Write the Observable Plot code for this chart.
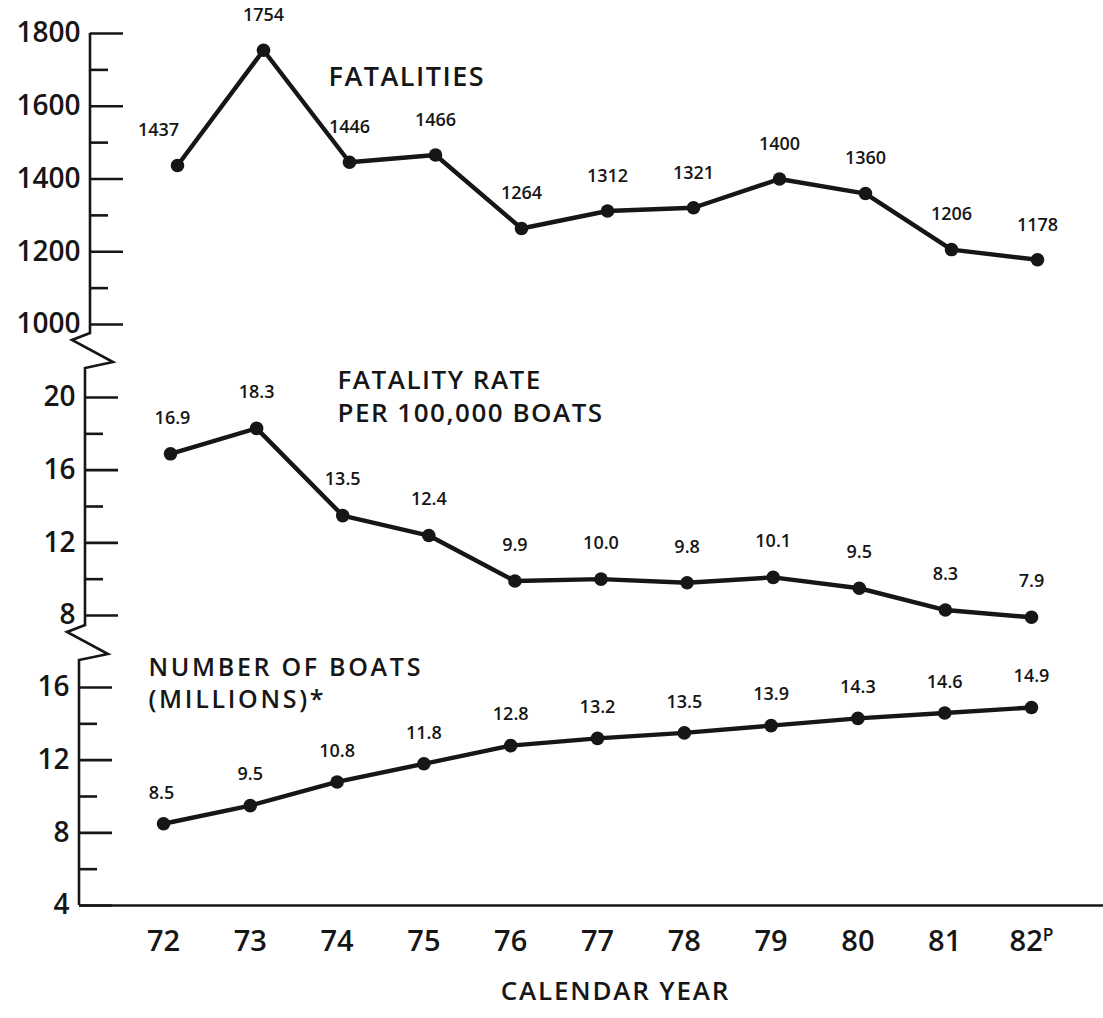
<!DOCTYPE html>
<html><head><meta charset="utf-8">
<script src="https://cdn.jsdelivr.net/npm/d3@7"></script>
<script src="https://cdn.jsdelivr.net/npm/@observablehq/plot@0.6"></script>
<style>
html,body{margin:0;padding:0;background:#fff;}
#chart{position:relative;width:1103px;height:1018px;overflow:hidden;background:#fff;}
#chart svg{position:absolute;left:0;top:0;}
</style></head><body><div id="chart"></div>
<script>
// ---- data ----
const years = [72, 73, 74, 75, 76, 77, 78, 79, 80, 81, 82];
const yearLabels = ["72", "73", "74", "75", "76", "77", "78", "79", "80", "81", "82P"];
const fatalities = [1437, 1754, 1446, 1466, 1264, 1312, 1321, 1400, 1360, 1206, 1178];
const fatalityRate = [16.9, 18.3, 13.5, 12.4, 9.9, 10.0, 9.8, 10.1, 9.5, 8.3, 7.9];
const boatsMillions = [8.5, 9.5, 10.8, 11.8, 12.8, 13.2, 13.5, 13.9, 14.3, 14.6, 14.9];
const fatalityTicks = [1000, 1200, 1400, 1600, 1800];
const fatalityMinorTicks = [1100, 1300, 1500, 1700];
const rateTicks = [8, 12, 16, 20];
const rateMinorTicks = [10, 14, 18];
const boatTicks = [4, 8, 12, 16];
const boatMinorTicks = [6, 10, 14];
const panelTitles = ["FATALITIES", "FATALITY RATE\nPER 100,000 BOATS", "NUMBER OF BOATS\n(MILLIONS)*"];
const xTitle = "CALENDAR YEAR";

// ---- layout / style ----
const W = 1103, H = 1018;
const FONT = "'Open Sans', 'Noto Sans', sans-serif";
const INK = "#161616";
const chart = document.getElementById("chart");

function panel(o) {
  const rows = years.map((yr, i) => ({year: yr, value: o.values[i], label: o.fmt(o.values[i]), i}));
  const marks = [
    Plot.tickY(o.major, {y: d => d, stroke: INK, strokeWidth: 2.6, insetRight: W - o.axisX - 33}),
    Plot.tickY(o.minor, {y: d => d, stroke: INK, strokeWidth: 2.6, insetRight: W - o.axisX - 18}),
    Plot.axisY(o.major, {tickSize: 0, tickPadding: 10, fontSize: 28, fontWeight: 600, fill: INK, label: null,
      tickFormat: d => String(d)}),
    Plot.line(rows, {x: "year", y: "value", stroke: INK, strokeWidth: 4.4, strokeLinejoin: "round"}),
    Plot.dot(rows, {x: "year", y: "value", r: 6.8, fill: INK}),
    Plot.text(rows.filter(d => d.i > 0), {x: "year", y: "value", text: "label", dy: o.labelDy, fontSize: 18, fontWeight: 600, fill: INK}),
    Plot.text(rows.filter(d => d.i === 0), {x: "year", y: "value", text: "label", dy: o.labelDy, dx: o.firstDx, fontSize: 18, fontWeight: 600, fill: INK}),
    Plot.text([o.title], {frameAnchor: "top-left", textAnchor: "start", lineAnchor: "middle", dx: o.titleDx, dy: o.titleDy,
      lineHeight: 1.28, fontSize: o.titleSize, fontWeight: 600, fill: INK})
  ];
  if (o.bottom) {
    marks.push(
      Plot.ruleY([o.domain[0]], {stroke: INK, strokeWidth: 2.6}),
      Plot.axisX(years, {tickSize: 0, tickPadding: 25, fontSize: 29, fontWeight: 600, fill: INK, label: null,
        tickFormat: d => yearLabels[years.indexOf(d)]}),
      Plot.text([xTitle], {frameAnchor: "bottom", dx: 24, dy: 94, fontSize: 26, fontWeight: 600, fill: INK})
    );
  }
  const p = Plot.plot({
    width: W, height: H,
    marginLeft: o.axisX, marginRight: 0,
    marginTop: o.yPx[1], marginBottom: H - o.yPx[0],
    style: {background: "transparent", fontFamily: FONT, overflow: "visible"},
    x: {domain: [72, 82], range: o.xPx, axis: o.bottom ? undefined : null},
    y: {domain: o.domain, range: o.yPx},
    marks
  });
  chart.appendChild(p);
  return p;
}

const p1 = panel({values: fatalities, fmt: d => String(d), domain: [1000, 1800], yPx: [324, 33],
  axisX: 90, xPx: [177, 1037], major: fatalityTicks, minor: fatalityMinorTicks,
  labelDy: -35, firstDx: -19, title: panelTitles[0], titleSize: 27, titleDx: 238, titleDy: 41});
const p2 = panel({values: fatalityRate, fmt: d => d.toFixed(1), domain: [8, 20], yPx: [615, 397],
  axisX: 85, xPx: [170, 1031], major: rateTicks, minor: rateMinorTicks,
  labelDy: -36, firstDx: 2, title: panelTitles[1], titleSize: 26, titleDx: 252, titleDy: -3});
const p3 = panel({values: boatsMillions, fmt: d => d.toFixed(1), domain: [4, 16], yPx: [905, 687],
  axisX: 79, xPx: [163, 1031], major: boatTicks, minor: boatMinorTicks,
  labelDy: -31, firstDx: -2, title: panelTitles[2], titleSize: 25, titleDx: 69, titleDy: -6, bottom: true});

// wide tracking on the titles, as in the original lettering
const tracked = new Map([[panelTitles[0], 1.5], [panelTitles[1].replace("\n", ""), 1.5],
  [panelTitles[2].replace("\n", ""), 2.7], [xTitle, 1.8]]);
d3.select(chart).selectAll("text").each(function() {
  const ls = tracked.get(this.textContent);
  if (ls != null) this.style.letterSpacing = ls + "px";
});

// superscript "P" on the last year label
d3.select(p3).selectAll("text").filter(function() { return this.textContent === "82P"; })
  .each(function() {
    const t = d3.select(this);
    t.text("82");
    t.append("tspan").attr("font-size", "0.6em").attr("dy", "-0.6em").text("P");
  });

// ---- broken y-axis line with zigzag breaks ----
const y1 = p1.scale("y"), y2 = p2.scale("y"), y3 = p3.scale("y");
const a1 = 90, a2 = 85, a3 = 79;
function zig(ax, y, nextAx) { return [[ax, y], [ax - 18, y + 7], [ax + 23, y + 29], [nextAx, y + 35]]; }
const b1 = y1.apply(1000) + 9, b2 = y2.apply(8) + 10;
const pts = [[a1, y1.apply(1800)], ...zig(a1, b1, a2), ...zig(a2, b2, a3), [a3, y3.apply(4)]];
const ov = d3.select(chart).append("svg").attr("width", W).attr("height", H);
ov.append("path").attr("d", d3.line()(pts)).attr("fill", "none").attr("stroke", INK)
  .attr("stroke-width", 2.6).attr("stroke-linejoin", "miter");
</script></body></html>
